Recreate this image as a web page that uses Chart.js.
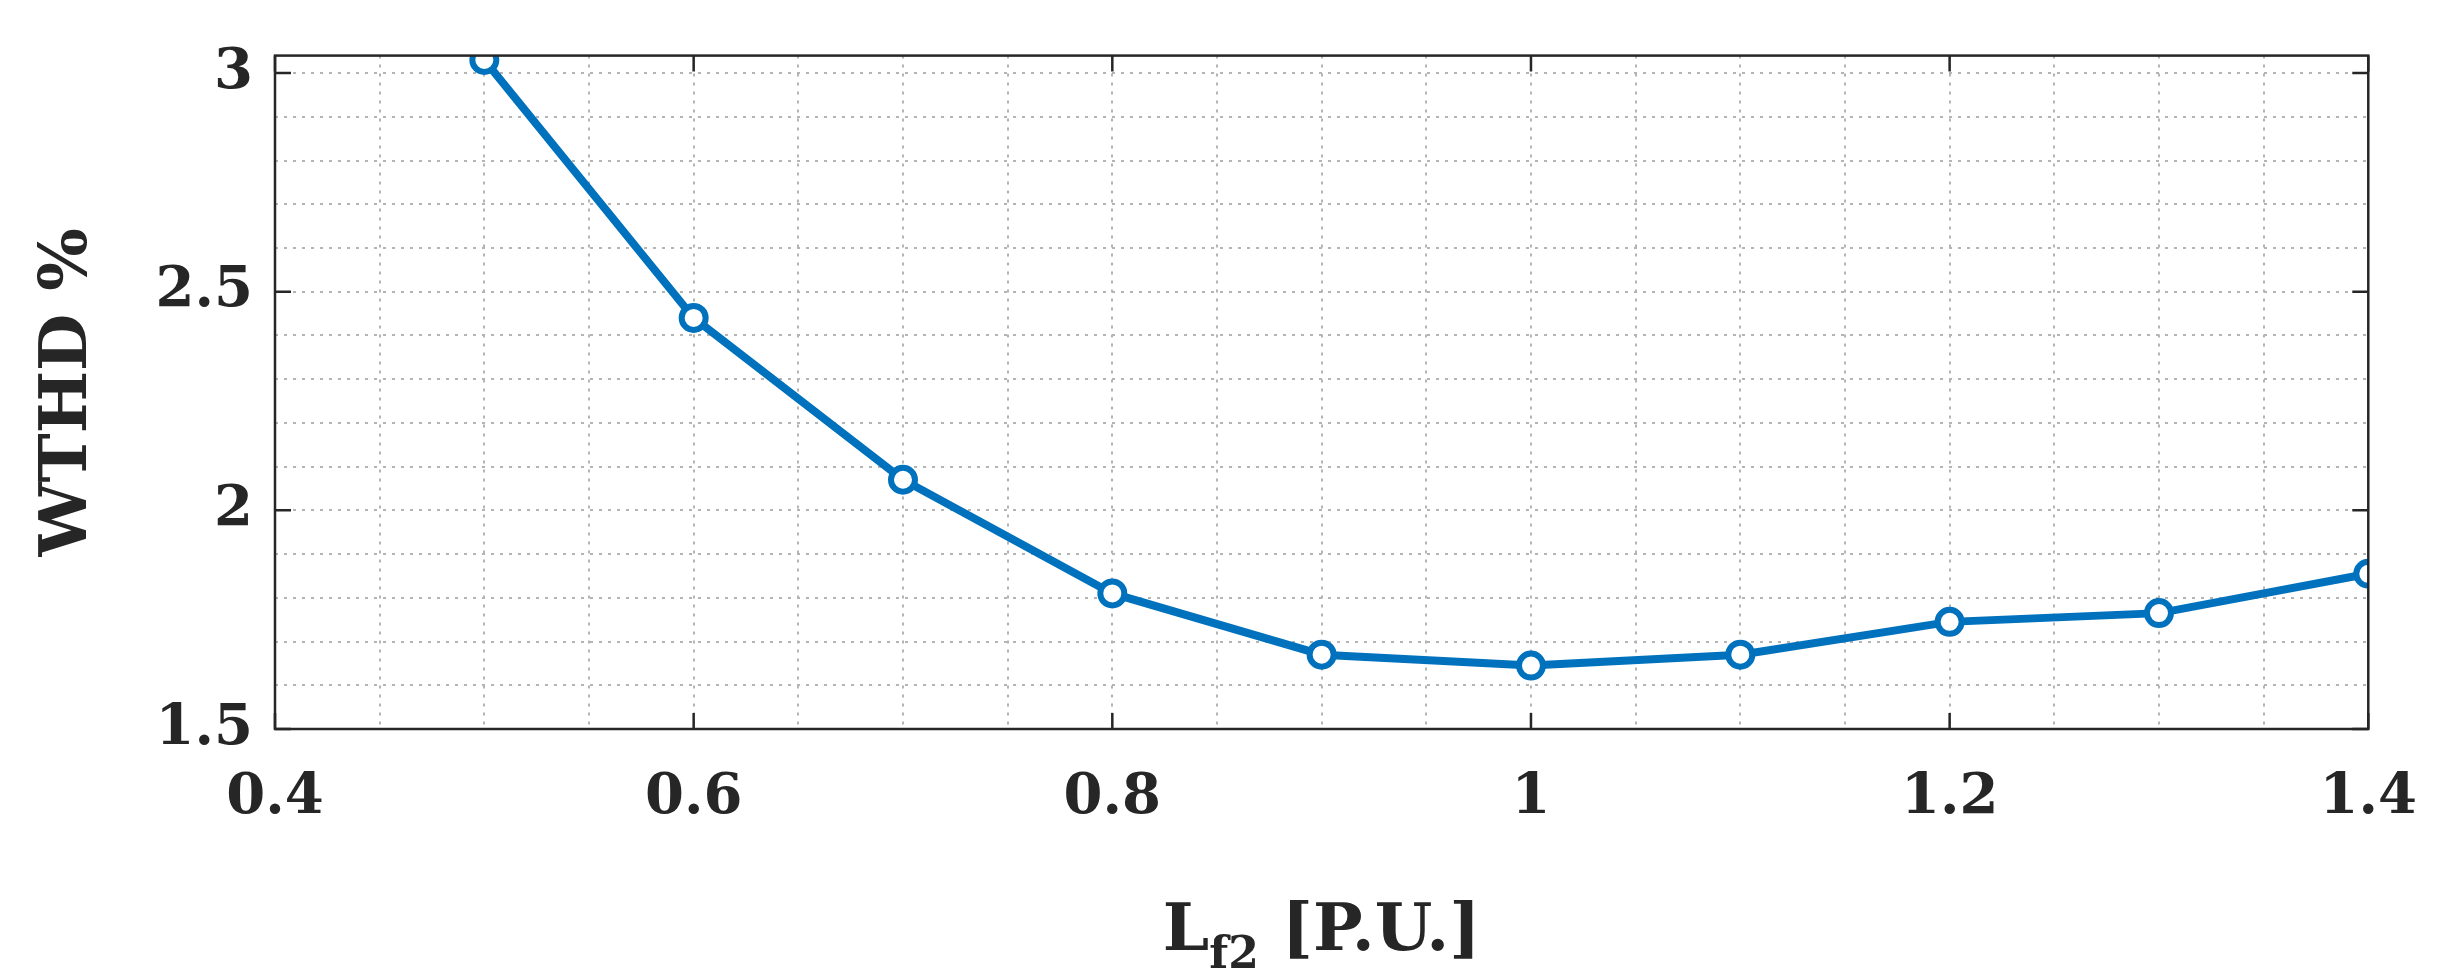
<!DOCTYPE html>
<html>
<head>
<meta charset="utf-8">
<script src="https://cdn.jsdelivr.net/npm/chart.js@4"></script>
<style>
  html, body { margin: 0; padding: 0; background: #fff; }
  #wrap { width: 2453px; height: 977px; }
</style>
</head>
<body>
<div id="wrap"><canvas id="c" width="2453" height="977"></canvas></div>
<script>
// Data
const lf2 = [0.5, 0.6, 0.7, 0.8, 0.9, 1.0, 1.1, 1.2, 1.3, 1.4];
const wthd = [3.03, 2.44, 2.07, 1.81, 1.67, 1.645, 1.67, 1.745, 1.765, 1.855];
const xTickLabels = [0.4, 0.6, 0.8, 1, 1.2, 1.4];
const yTickLabels = [1.5, 2, 2.5, 3];

const FONT = '"DejaVu Serif", "Liberation Serif", serif';
const near = (v, list) => list.some(t => Math.abs(t - v) < 1e-6);

// frame, inward ticks and axis titles
const framePlugin = {
  id: 'frame',
  afterDraw(chart) {
    const { ctx, chartArea: a, scales: { x, y } } = chart;
    ctx.save();
    ctx.strokeStyle = '#262626';
    ctx.lineWidth = 2.5;
    ctx.strokeRect(a.left, a.top, a.right - a.left, a.bottom - a.top);
    const len = 16;
    xTickLabels.forEach(v => {
      const px = x.getPixelForValue(v);
      ctx.beginPath();
      ctx.moveTo(px, a.bottom); ctx.lineTo(px, a.bottom - len);
      ctx.moveTo(px, a.top); ctx.lineTo(px, a.top + len);
      ctx.stroke();
    });
    yTickLabels.forEach(v => {
      const py = y.getPixelForValue(v);
      ctx.beginPath();
      ctx.moveTo(a.left, py); ctx.lineTo(a.left + len, py);
      ctx.moveTo(a.right, py); ctx.lineTo(a.right - len, py);
      ctx.stroke();
    });
    // x title with subscript
    ctx.fillStyle = '#262626';
    ctx.textBaseline = 'alphabetic';
    const big = 'bold 66px ' + FONT, small = 'bold 44px ' + FONT;
    const main = 'L', sub = 'f2', rest = ' [P.U.]';
    ctx.font = big;
    const w1 = ctx.measureText(main).width;
    const w3 = ctx.measureText(rest).width;
    ctx.font = small;
    const w2 = ctx.measureText(sub).width;
    const sx = (a.left + a.right) / 2 - (w1 + w2 + w3) / 2;
    const base = 950;
    ctx.font = big;
    ctx.fillText(main, sx, base);
    ctx.font = small;
    ctx.fillText(sub, sx + w1, base + 18);
    ctx.font = big;
    ctx.fillText(rest, sx + w1 + w2, base);
    // y title
    ctx.translate(86, (a.top + a.bottom) / 2);
    ctx.rotate(-Math.PI / 2);
    ctx.textAlign = 'center';
    ctx.fillText('WTHD %', 0, 0);
    ctx.restore();
  }
};

new Chart(document.getElementById('c'), {
  type: 'line',
  data: {
    datasets: [{
      data: lf2.map((v, i) => ({ x: v, y: wthd[i] })),
      borderColor: '#0072BD',
      borderWidth: 8,
      pointRadius: 12,
      pointBorderWidth: 6,
      pointBackgroundColor: '#ffffff',
      pointBorderColor: '#0072BD',
      tension: 0
    }]
  },
  options: {
    responsive: false,
    devicePixelRatio: 1,
    animation: false,
    layout: { padding: { top: 38, right: 30, left: 0, bottom: 0 } },
    plugins: { legend: { display: false }, tooltip: { enabled: false } },
    scales: {
      x: {
        type: 'linear', min: 0.4, max: 1.4,
        afterFit(s) { s.height = 248; },
        grid: { color: '#b4b4b4', lineWidth: 2, drawTicks: false },
        border: { display: false, dash: [3, 6] },
        ticks: {
          stepSize: 0.05, autoSkip: false, padding: 36, color: '#262626',
          font: { family: FONT, size: 56, weight: 'bold' },
          callback: v => near(v, xTickLabels) ? String(Math.round(v * 10) / 10) : ''
        }
      },
      y: {
        type: 'linear', min: 1.5, max: 3.04,
        afterFit(s) { s.width = 275; },
        afterBuildTicks(s) {
          s.ticks = [];
          for (let i = 0; i <= 15; i++) s.ticks.push({ value: Math.round((1.5 + i * 0.1) * 10) / 10 });
        },
        grid: { color: '#b4b4b4', lineWidth: 2, drawTicks: false },
        border: { display: false, dash: [3, 6] },
        ticks: {
          autoSkip: false, padding: 22, color: '#262626',
          font: { family: FONT, size: 56, weight: 'bold' },
          callback: v => near(v, yTickLabels) ? String(v) : ''
        }
      }
    }
  },
  plugins: [framePlugin]
});
</script>
</body>
</html>
